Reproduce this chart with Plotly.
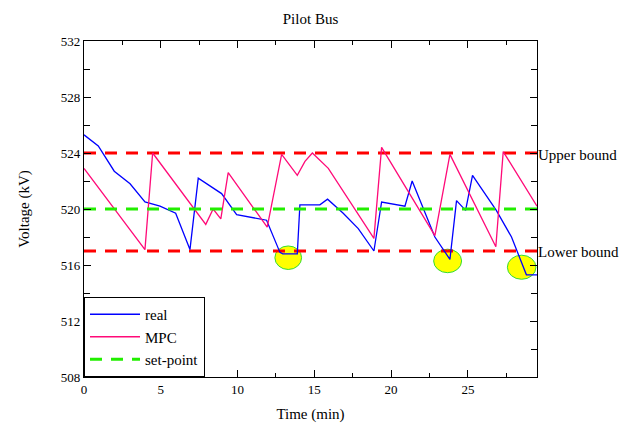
import plotly.graph_objects as go

# ---- data ----
real_t = [0, 0.93, 1.97, 3.0, 3.97, 4.95, 5.97, 6.9, 7.44, 8.96, 9.94, 10.92, 11.89,
          12.76, 12.94, 13.89, 14.06, 15.36, 15.86, 16.88, 17.86, 18.88, 19.38, 20.9,
          21.37, 22.85, 23.83, 24.26, 24.85, 25.3, 26.85, 27.84, 28.81, 29.5]
real_v = [525.3, 524.5, 522.7, 521.8, 520.5, 520.2, 519.7, 517.1, 522.2, 521.1, 519.6,
          519.4, 519.2, 516.9, 516.8, 516.8, 520.3, 520.3, 520.7, 519.7, 518.6, 517.0,
          520.5, 520.2, 522.0, 518.0, 516.4, 520.6, 519.9, 522.4, 519.9, 518.0, 515.3, 515.3]

mpc_t = [0, 3.97, 4.47, 7.93, 8.41, 8.91, 9.39, 11.93, 12.87, 13.89, 14.39, 14.87,
         15.91, 18.88, 19.38, 22.85, 23.83, 26.82, 27.3, 29.5]
mpc_v = [522.9, 517.1, 524.0, 518.9, 520.0, 519.3, 522.6, 518.7, 523.9, 522.4, 523.4,
         524.0, 522.9, 517.9, 524.4, 518.1, 523.9, 517.3, 524.1, 520.2]

upper_bound = 524
lower_bound = 517
set_point = 520
x_range = [0, 29.5]
y_range = [508, 532]

# highlighted violations: (center t, center v, half-width t, half-height v)
ellipses = [(13.30, 516.52, 0.87, 0.84), (23.68, 516.29, 0.91, 0.84), (28.50, 515.84, 0.93, 0.86)]

FONT = "Liberation Serif"

fig = go.Figure()

for cx, cy, rx, ry in ellipses:
    fig.add_shape(type="circle", xref="x", yref="y",
                  x0=cx - rx, x1=cx + rx, y0=cy - ry, y1=cy + ry,
                  fillcolor="#ffff00", line=dict(color="#33dd33", width=1), layer="below")

fig.add_trace(go.Scatter(x=x_range, y=[upper_bound, upper_bound], mode="lines",
                         line=dict(color="#ff0000", width=3, dash="12px,9px"),
                         showlegend=False, hoverinfo="skip"))
fig.add_trace(go.Scatter(x=x_range, y=[lower_bound, lower_bound], mode="lines",
                         line=dict(color="#ff0000", width=3, dash="12px,9px"),
                         showlegend=False, hoverinfo="skip"))
fig.add_trace(go.Scatter(x=real_t, y=real_v, mode="lines", name="real",
                         line=dict(color="#0000ff", width=1.3)))
fig.add_trace(go.Scatter(x=mpc_t, y=mpc_v, mode="lines", name="MPC",
                         line=dict(color="#ff0a78", width=1.3)))
fig.add_trace(go.Scatter(x=x_range, y=[set_point, set_point], mode="lines", name="set-point",
                         line=dict(color="#22ee00", width=3, dash="12px,9px")))

fig.add_annotation(x=1, xref="paper", xanchor="left", y=upper_bound, yref="y", xshift=-1, yshift=-2,
                   text="Upper bound", showarrow=False, font=dict(family=FONT, size=15, color="black"))
fig.add_annotation(x=1, xref="paper", xanchor="left", y=lower_bound, yref="y", xshift=-1, yshift=-1,
                   text="Lower bound", showarrow=False, font=dict(family=FONT, size=15, color="black"))

axis_common = dict(showgrid=False, zeroline=False, showline=True, linecolor="black",
                   linewidth=1.2, mirror="ticks", ticks="inside", tickcolor="black",
                   automargin=False,
                   tickfont=dict(family=FONT, size=13, color="black"))

fig.update_xaxes(range=x_range, dtick=5, tick0=0, ticklen=7,
                 minor=dict(dtick=2.5, ticks="inside", ticklen=4, tickcolor="black"),
                 title=dict(text="Time (min)", font=dict(family=FONT, size=15, color="black"), standoff=12),
                 **axis_common)
fig.update_yaxes(range=y_range, dtick=4, tick0=508, ticklen=7,
                 minor=dict(dtick=2, ticks="inside", ticklen=6, tickcolor="black"),
                 title=dict(text="Voltage (kV)", font=dict(family=FONT, size=15, color="black"), standoff=27),
                 **axis_common)

fig.update_layout(
    width=640, height=425,
    margin=dict(l=84, r=103, t=41, b=48, autoexpand=False),
    plot_bgcolor="white", paper_bgcolor="white",
    font=dict(family=FONT, color="black"),
    title=dict(text="Pilot Bus", x=(84 + 537) / 2 / 640, xanchor="center", y=0.955, yanchor="middle",
               font=dict(family=FONT, size=15, color="black")),
    legend=dict(x=0, y=0, xanchor="left", yanchor="bottom", bgcolor="white",
                bordercolor="black", borderwidth=1, itemwidth=50, tracegroupgap=0,
                font=dict(family=FONT, size=15, color="black")),
    showlegend=True,
)

fig.write_html("out.html")
